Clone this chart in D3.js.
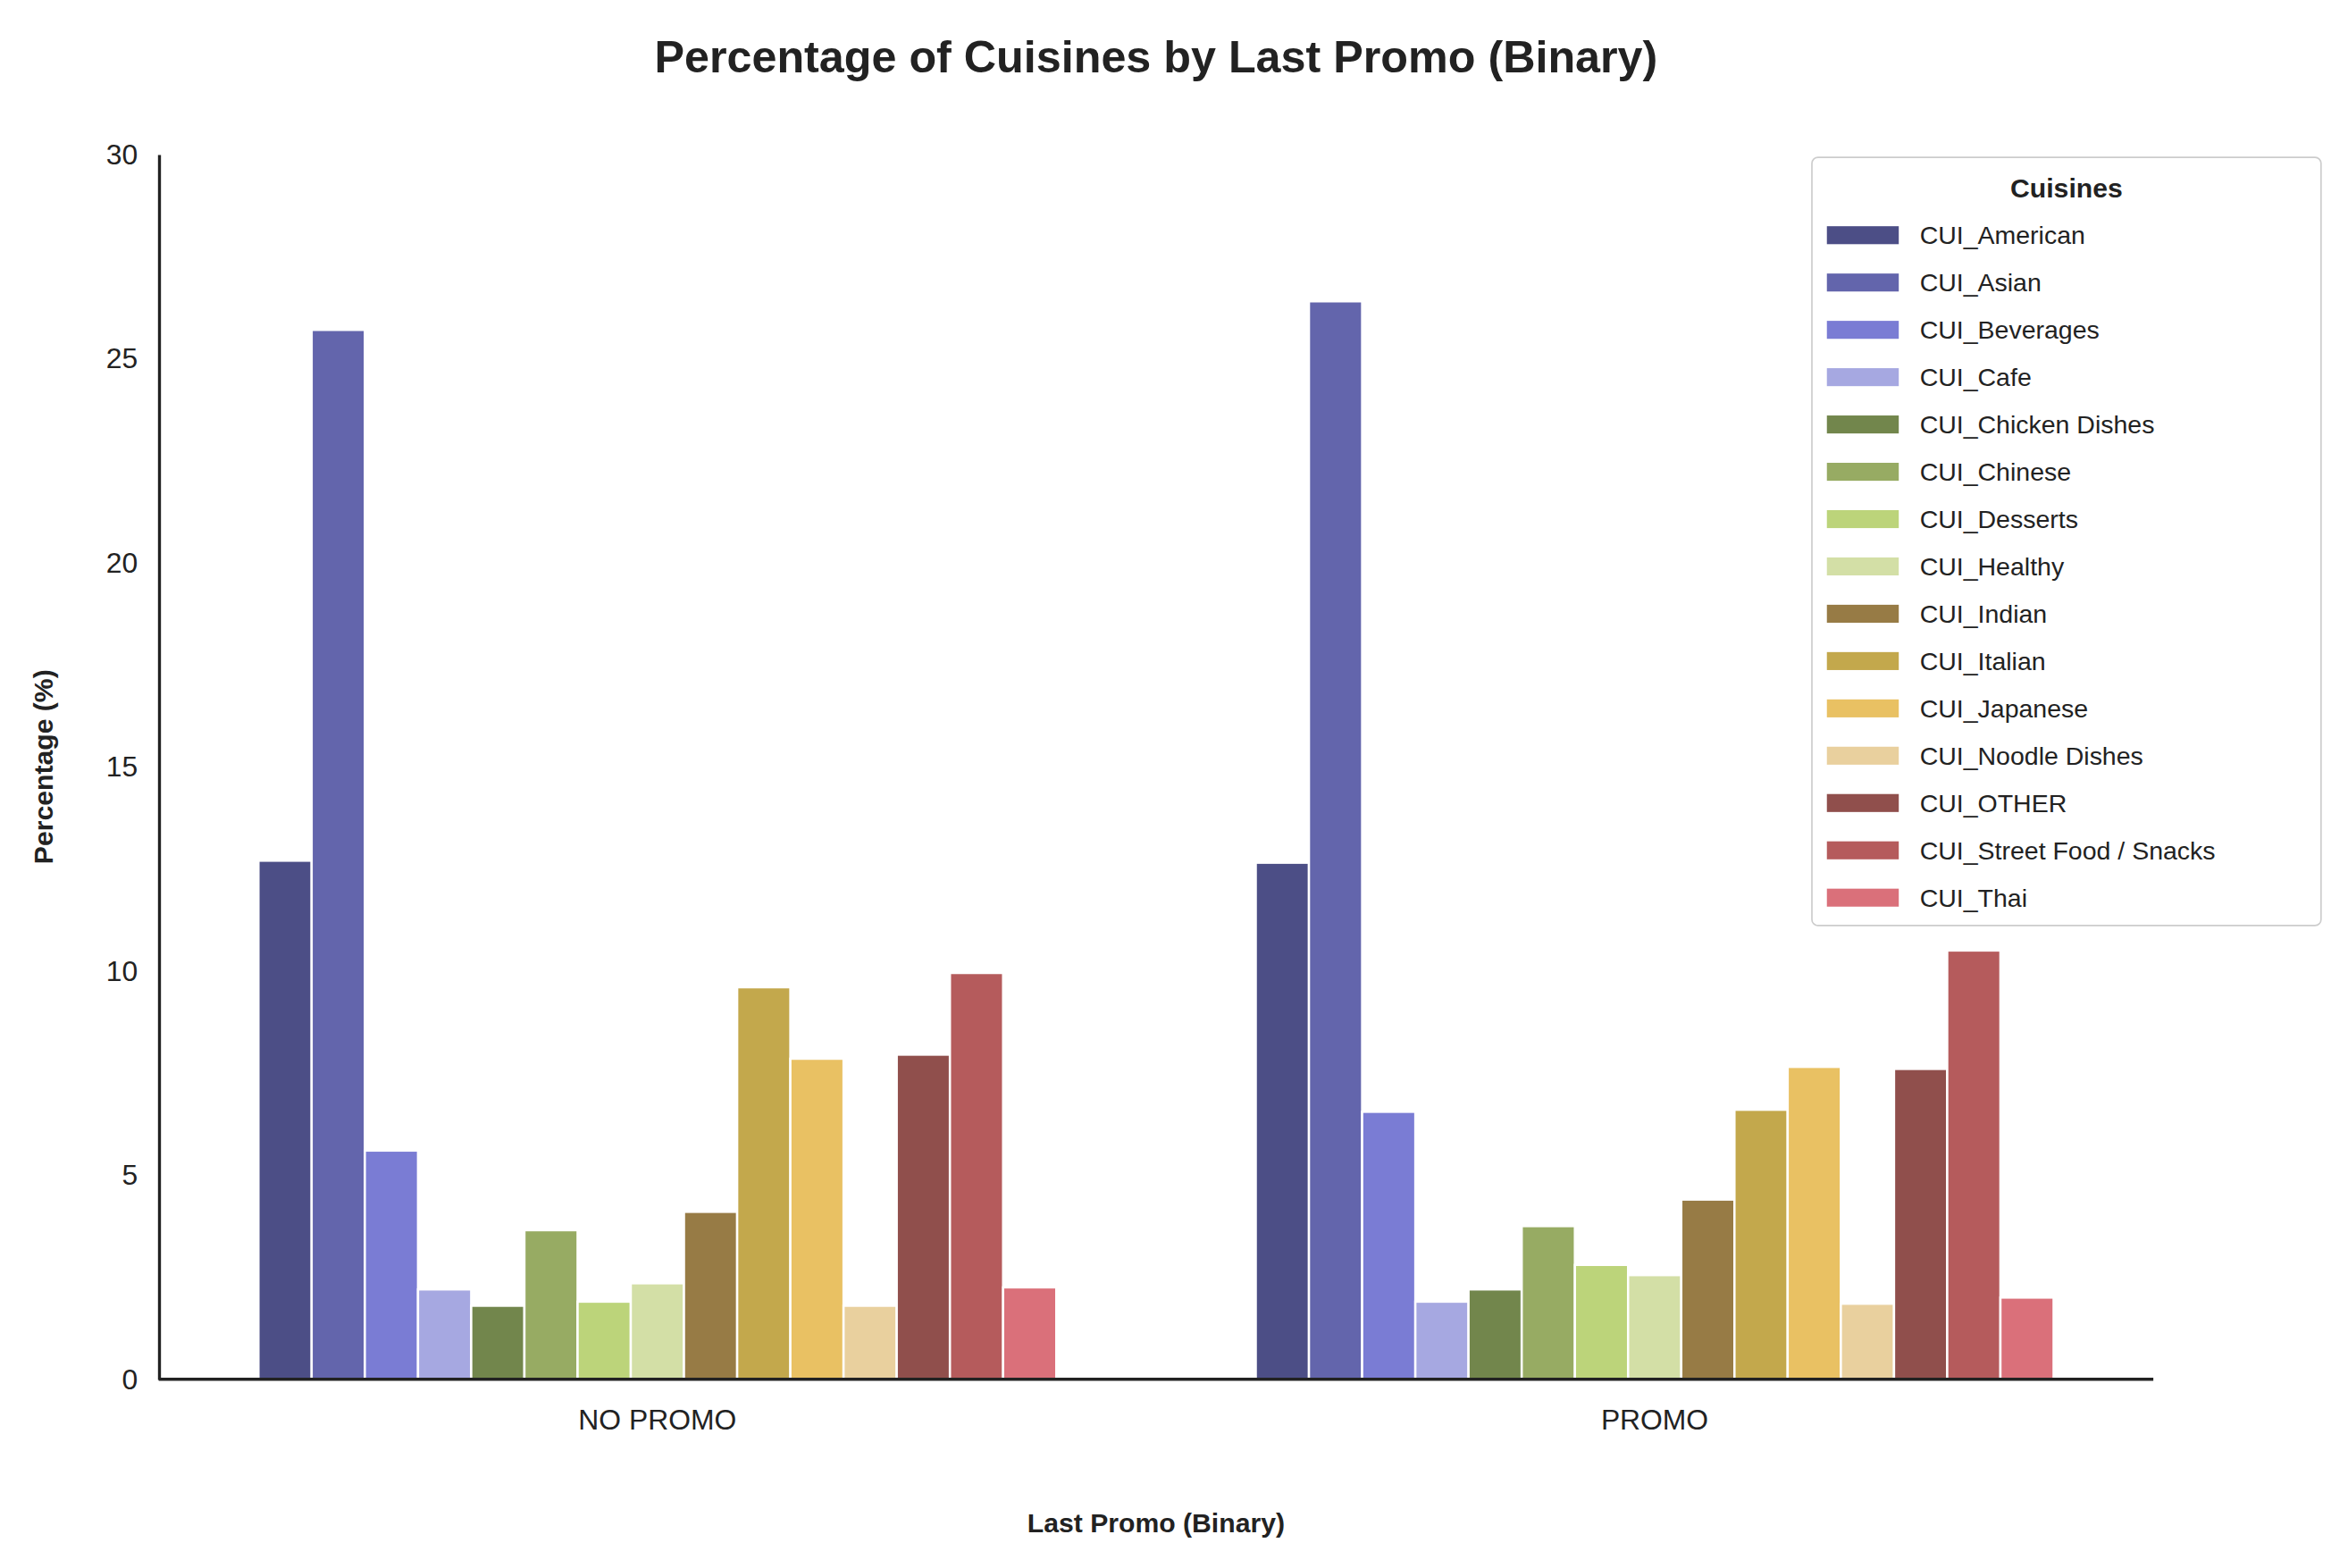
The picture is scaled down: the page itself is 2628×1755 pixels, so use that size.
<!DOCTYPE html>
<html><head><meta charset="utf-8">
<script src="https://cdn.jsdelivr.net/npm/d3@7"></script>
<style>body{margin:0;background:#fff}svg{display:block;font-family:"Liberation Sans",Arial,sans-serif}</style>
</head><body>
<script>
const groups = ["NO PROMO", "PROMO"];
const cuisines = ["CUI_American","CUI_Asian","CUI_Beverages","CUI_Cafe","CUI_Chicken Dishes","CUI_Chinese","CUI_Desserts","CUI_Healthy","CUI_Indian","CUI_Italian","CUI_Japanese","CUI_Noodle Dishes","CUI_OTHER","CUI_Street Food / Snacks","CUI_Thai"];
const noPromo = [12.7, 25.7, 5.6, 2.2, 1.8, 3.65, 1.9, 2.35, 4.1, 9.6, 7.85, 1.8, 7.95, 9.95, 2.25];
const promo = [12.65, 26.4, 6.55, 1.9, 2.2, 3.75, 2.8, 2.55, 4.4, 6.6, 7.65, 1.85, 7.6, 10.5, 2.0];
const colors = ["#393b79","#5254a3","#6b6ecf","#9c9ede","#637939","#8ca252","#b5cf6b","#cedb9c","#8c6d31","#bd9e39","#e7ba52","#e7cb94","#843c39","#ad494a","#d6616b"];
const yTicks = [0,5,10,15,20,25,30];

const W = 1568, H = 1047;
const svg = d3.select("body").append("svg").attr("width",2628).attr("height",1755).attr("viewBox",`0 0 ${W} ${H}`);
const m = {l:106, r:1438, t:103, b:921};

const x = d3.scaleBand().domain(groups).range([m.l, m.r]).paddingInner(0.2).paddingOuter(0.1);
const xi = d3.scaleBand().domain(cuisines).range([0, x.bandwidth()]);
const y = d3.scaleLinear().domain([0,30]).range([m.b, m.t]);
const vals = {"NO PROMO": noPromo, "PROMO": promo};

groups.forEach(g => {
  svg.append("g").selectAll("rect").data(cuisines).join("rect")
    .attr("x", c => x(g) + xi(c)).attr("width", xi.bandwidth())
    .attr("y", (c,i) => y(vals[g][i])).attr("height", (c,i) => m.b - y(vals[g][i]))
    .attr("fill", (c,i) => colors[i]).attr("fill-opacity", 0.9)
    .attr("stroke", "#fff").attr("stroke-width", 1.5);
});

const ya = svg.append("g").attr("transform",`translate(${m.l},0)`)
  .call(d3.axisLeft(y).tickValues(yTicks).tickSize(0).tickPadding(14));
ya.select(".domain").attr("stroke","#222").attr("stroke-width",2);
ya.selectAll("text").style("font-size","19px").style("font-family","'Liberation Sans',Arial,sans-serif").attr("fill","#222");
const xa = svg.append("g").attr("transform",`translate(0,${m.b})`)
  .call(d3.axisBottom(x).tickSize(0).tickPadding(20));
xa.select(".domain").attr("stroke","#222").attr("stroke-width",2).attr("d",`M${m.l},0H${m.r}`);
xa.selectAll("text").style("font-size","19px").style("font-family","'Liberation Sans',Arial,sans-serif").attr("fill","#222");

svg.append("text").attr("x",772).attr("y",48).attr("text-anchor","middle")
  .attr("font-size",30).attr("font-weight","bold").attr("fill","#222")
  .text("Percentage of Cuisines by Last Promo (Binary)");
svg.append("text").attr("x",772).attr("y",1023).attr("text-anchor","middle")
  .attr("font-size",18).attr("font-weight","bold").attr("fill","#222").text("Last Promo (Binary)");
svg.append("text").attr("transform","translate(35,512) rotate(-90)").attr("text-anchor","middle")
  .attr("font-size",18).attr("font-weight","bold").attr("fill","#222").text("Percentage (%)");

const lg = svg.append("g");
lg.append("rect").attr("x",1210).attr("y",105).attr("width",340).attr("height",513).attr("rx",4)
  .attr("fill","#fff").attr("fill-opacity",0.85).attr("stroke","#ccc");
lg.append("text").attr("x",1380).attr("y",132).attr("text-anchor","middle").attr("font-size",18)
  .attr("font-weight","bold").attr("fill","#222").text("Cuisines");
cuisines.forEach((c,i) => {
  const yy = 157 + i*31.6;
  lg.append("rect").attr("x",1220).attr("y",yy-6).attr("width",48).attr("height",12).attr("fill",colors[i]).attr("fill-opacity",0.9);
  lg.append("text").attr("x",1282).attr("y",yy+6).attr("font-size",17).attr("fill","#222").text(c);
});
</script>
</body></html>
